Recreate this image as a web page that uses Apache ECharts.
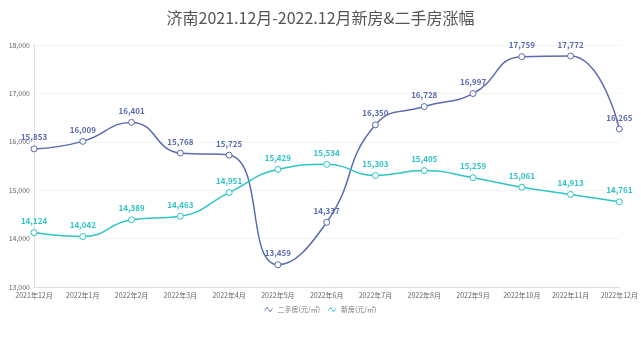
<!DOCTYPE html>
<html>
<head>
<meta charset="utf-8">
<script src="https://cdn.jsdelivr.net/npm/echarts@6/dist/echarts.min.js"></script>
<style>
  html, body { margin: 0; padding: 0; background: #fff; }
  #chart { width: 641px; height: 341px; }
</style>
</head>
<body>
<div id="chart"></div>
<script>
// Monthly average prices in Jinan, Dec 2021 – Dec 2022 (yuan per m²)
const months = ['2021年12月', '2022年1月', '2022年2月', '2022年3月', '2022年4月', '2022年5月',
  '2022年6月', '2022年7月', '2022年8月', '2022年9月', '2022年10月', '2022年11月', '2022年12月'];
const resalePrices = [15853, 16009, 16401, 15768, 15725, 13459, 14337, 16350, 16728, 16997, 17759, 17772, 16265];
const newHomePrices = [14124, 14042, 14389, 14463, 14951, 15429, 15534, 15303, 15405, 15259, 15061, 14913, 14761];
const yTicks = { min: 13000, max: 18000, interval: 1000 };

const resaleColor = '#5a6bb0';
const newColor = '#2ec4c4';
const font = '"Noto Sans CJK SC", "Noto Sans", sans-serif';
// small wavy glyph used as the legend marker
const waveIcon = 'path://M0,7 C2,2 4,2 5,5 C6,8 8,8 10,3 L10,4.5 C8,9.5 6,9.5 5,6.5 C4,3.5 2,3.5 0,8.5 Z';

const chart = echarts.init(document.getElementById('chart'));

function lineSeries(name, data, color) {
  return {
    name: name,
    type: 'line',
    data: data,
    smooth: 0.5,
    symbol: 'circle',
    symbolSize: 6,
    lineStyle: { color: color, width: 1.5 },
    itemStyle: { color: '#fff', borderColor: color, borderWidth: 1 },
    label: {
      show: true,
      position: 'top',
      color: color,
      fontSize: 8,
      fontWeight: 'bold',
      fontFamily: font,
      distance: 4,
      formatter: p => p.value.toLocaleString('en-US')
    }
  };
}

chart.setOption({
  backgroundColor: '#fff',
  animation: false,
  color: [resaleColor, newColor],
  title: {
    text: '济南2021.12月-2022.12月新房&二手房涨幅',
    left: 'center',
    top: 5,
    textStyle: { fontSize: 16, fontWeight: 'normal', color: '#555', fontFamily: font }
  },
  legend: {
    bottom: 23,
    left: 'center',
    itemWidth: 8,
    itemHeight: 6,
    itemGap: 8,
    textStyle: { fontSize: 7, color: '#777', fontFamily: font },
    data: [
      { name: '二手房(元/㎡)', icon: waveIcon, itemStyle: { color: resaleColor, borderWidth: 0 } },
      { name: '新房(元/㎡)', icon: waveIcon, itemStyle: { color: newColor, borderWidth: 0 } }
    ]
  },
  grid: { left: 34, right: 15, top: 45, bottom: 54 },
  xAxis: {
    type: 'category',
    boundaryGap: false,
    data: months,
    axisLine: { lineStyle: { color: '#ddd' } },
    axisTick: { show: false },
    axisLabel: { fontSize: 7, color: '#666', fontFamily: font, margin: 5 }
  },
  yAxis: {
    type: 'value',
    min: yTicks.min,
    max: yTicks.max,
    interval: yTicks.interval,
    axisLine: { show: true, lineStyle: { color: '#ddd' } },
    axisTick: { show: false },
    axisLabel: { fontSize: 7, color: '#666', fontFamily: font, margin: 4,
      formatter: v => v.toLocaleString('en-US') },
    splitLine: { lineStyle: { color: '#f3f3f3' } }
  },
  series: [
    lineSeries('二手房(元/㎡)', resalePrices, resaleColor),
    lineSeries('新房(元/㎡)', newHomePrices, newColor)
  ]
});
</script>
</body>
</html>
